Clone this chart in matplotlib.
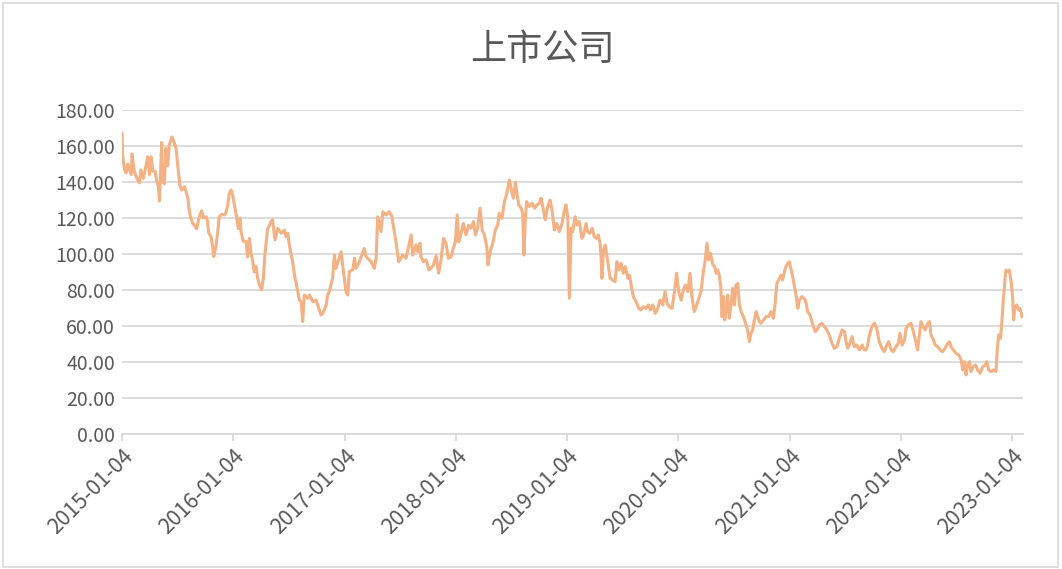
import numpy as np
import pandas as pd
import matplotlib
matplotlib.use('Agg')
import matplotlib.pyplot as plt
from matplotlib.ticker import MultipleLocator, FormatStrFormatter
from matplotlib.patches import Rectangle

plt.rcParams['font.family'] = ['Noto Sans CJK SC', 'DejaVu Sans']

title = '上市公司'
start_date = '2015-01-04'
end_offset = 2957  # days shown on the axis after start_date

# days after 2015-01-04
day_offset = [
    0, 2, 8, 13, 19, 30, 33, 40, 51, 57, 62, 70, 79, 84, 90, 95, 101, 109, 114, 119,
    123, 130, 133, 139, 144, 150, 155, 164, 172, 177, 183, 190, 196, 205, 210, 216, 221, 226, 232, 237,
    245, 251, 256, 261, 267, 276, 281, 284, 292, 298, 301, 309, 314, 319, 328, 336, 341, 347, 352, 358,
    363, 369, 376, 382, 387, 391, 398, 407, 412, 418, 423, 429, 434, 440, 445, 451, 458, 464, 469, 478, 484,
    # 2016 - 2017
    489, 494, 502, 511, 522, 533, 538, 544, 549, 560, 566, 577, 582, 588, 593, 598, 609, 615, 626, 637,
    642, 653, 659, 670, 675, 680, 691, 697, 702, 719, 724, 735, 741, 746, 757, 763, 768, 779, 795, 801,
    817, 828, 834, 839, 850, 856, 866, 877, 886, 888, 899, 908, 921, 932, 949, 954, 965, 970, 978,
    # 2017 - 2019
    981, 989, 998, 1007, 1014, 1022, 1031, 1039, 1047, 1055, 1063, 1071, 1080, 1087, 1094, 1100, 1105, 1113,
    1120, 1129, 1138, 1145, 1153, 1160, 1167, 1175, 1182, 1189, 1197, 1201, 1208, 1217, 1225, 1233, 1238,
    1247, 1255, 1263, 1271, 1277, 1284, 1291, 1296, 1302, 1310, 1315, 1319, 1324, 1328, 1337, 1346, 1354,
    1362, 1370, 1375, 1381, 1389, 1397, 1405, 1411, 1419, 1427, 1435, 1444, 1452, 1457, 1463, 1468,
    # 2019 - 2020
    1474, 1479, 1487, 1493, 1501, 1509, 1515, 1523, 1528, 1536, 1543, 1550, 1558, 1563, 1569, 1573, 1575,
    1580, 1586, 1594, 1602, 1610, 1618, 1624, 1630, 1638, 1645, 1652, 1660, 1665, 1671, 1678, 1687, 1696,
    1703, 1711, 1720, 1727, 1734, 1742, 1750, 1758, 1766, 1775, 1782, 1789, 1796, 1805, 1813, 1820, 1827,
    1835, 1842, 1849, 1857, 1864, 1871, 1878, 1884, 1893, 1900, 1908, 1914, 1920, 1925, 1931, 1939, 1945,
    # 2020 - 2021
    1950, 1955, 1960, 1965, 1969, 1974, 1978, 1982, 1988, 1993, 1999, 2004, 2010, 2015, 2021, 2026, 2032,
    2039, 2048, 2053, 2059, 2064, 2070, 2075, 2081, 2086, 2092, 2097, 2105, 2114, 2122, 2130, 2138, 2143,
    2149, 2155, 2163, 2168, 2174, 2179, 2185, 2190, 2196, 2201, 2207, 2212, 2218, 2223, 2231, 2237, 2243,
    2250, 2258, 2267, 2275, 2281, 2289, 2297, 2305, 2313, 2321, 2330, 2338, 2346, 2354, 2363, 2371, 2376,
    2382, 2389, 2396, 2403, 2411, 2420, 2429, 2436,
    # 2021 - 2023
    2442, 2447, 2453, 2461, 2469, 2477, 2485, 2494, 2502, 2510, 2516, 2524, 2531, 2540, 2548, 2553, 2560,
    2568, 2573, 2581, 2589, 2597, 2604, 2611, 2617, 2622, 2628, 2636, 2644, 2650, 2655, 2661, 2669, 2677,
    2685, 2693, 2701, 2710, 2715, 2721, 2728, 2737, 2746, 2754, 2759, 2764, 2770, 2775, 2781, 2786, 2794,
    2801, 2808, 2816, 2825, 2833, 2838, 2844, 2852, 2860, 2868, 2872, 2877, 2883, 2888, 2892, 2898, 2901,
    2907, 2912, 2918, 2923, 2926, 2931, 2936, 2943, 2947, 2954,
]

index_value = [
    167, 155, 147, 145, 150, 144, 155.5, 146, 141, 139.5, 146.7, 142, 149.4, 154, 144, 154, 146, 146, 140, 138,
    129.4, 162, 140, 139, 158.7, 149, 160.5, 165, 161.5, 159, 149, 138, 135.5, 137.4, 134.6, 131, 123.5, 120, 117, 116,
    114, 119, 121.7, 124, 120, 120.7, 118, 112, 109.6, 103, 98.5, 105, 112, 120.7, 122, 121.7, 123, 127, 133.7, 135.5,
    132.8, 127, 120.7, 114, 120, 112, 107, 107, 98.5, 108.7, 101, 95.7, 90, 93, 86.5, 82.8, 80, 86.5, 100, 114, 116,
    # 2016 - 2017
    118, 119, 107.8, 114.2, 111.5, 113.3, 109.6, 111.5, 105, 95.7, 88.3, 79, 74.4, 73.5, 62.4, 77.2, 75.4, 77.2, 73.5, 74.4,
    71.7, 66.1, 67, 71.7, 77.2, 79, 86.5, 99.4, 92, 101.3, 94, 79, 77.2, 90.2, 91.1, 97.6, 92, 95.7, 103, 98.5,
    95.7, 92, 97.6, 120.7, 112.4, 123.5, 121.7, 123.5, 120.7, 118, 106.8, 95.7, 99.4, 97.6, 110.6, 99.4, 105, 101.3, 106,
    # 2017 - 2019
    98.5, 95.7, 96.7, 91.1, 92, 93.9, 99, 89.3, 96.7, 108.7, 106, 97.6, 98.5, 103.1, 106.8, 121.7, 106.8, 111.5,
    117, 110.6, 116.1, 114.3, 118, 110.6, 114.3, 125.4, 113.3, 110.6, 104.1, 93.9, 101.3, 106, 113.3, 116.1, 122.6,
    119.8, 129.1, 133.7, 141.1, 136.5, 131, 139.8, 133.7, 127.3, 125.4, 122.6, 99.4, 120.7, 129.1, 126.3, 128.2, 125.4,
    127.3, 128.2, 131, 126.3, 119, 126.3, 130, 124.5, 113.3, 117, 112.4, 117, 124.5, 127.3, 120.7, 75.5,
    # 2019 - 2020
    114.3, 112.4, 120.7, 116.1, 118, 108.7, 110.6, 117, 112.4, 111.5, 114.3, 109.6, 108.7, 110.6, 106, 95.7, 86.5,
    102.2, 105, 95.7, 86.5, 85.6, 84.6, 95.7, 91.1, 94.8, 89.3, 93, 86.5, 88.3, 82.8, 76.3, 73.5, 69.8,
    68.9, 70.7, 69.8, 71.7, 68.9, 71.7, 67, 69.8, 74.4, 71.7, 79.1, 72.6, 70.7, 69.8, 79.1, 89.3, 79.1,
    74.4, 79.9, 82.8, 79.1, 89.3, 75.4, 68, 70.7, 75.4, 79.1, 90.2, 96.7, 105.9, 96.7, 100.4, 93.9, 93,
    # 2020 - 2021
    89.3, 91.1, 88.3, 81.9, 65.2, 76.3, 63.3, 68, 77.2, 64.3, 71.7, 80.9, 71.7, 82.8, 83.7, 71.7, 68,
    65.2, 60.6, 57.8, 51.3, 55.9, 57.8, 63.3, 68, 65.2, 62.4, 61.5, 63.3, 65.2, 65.2, 68, 64.3, 71.7,
    83.7, 85.6, 88.3, 85.6, 90.2, 93, 94.8, 95.7, 91.1, 87.4, 81.9, 77.2, 69.8, 74.4, 76.3, 75.4, 74.4,
    68, 66.1, 60.6, 56.9, 57.8, 60.6, 61.5, 59.6, 57.8, 55, 50.4, 47.6, 48.5, 53.1, 57.8, 56.9, 51.3,
    47.6, 50.4, 54.1, 48.5, 49.4, 46.7, 49.4, 46.7,
    # 2021 - 2023
    46.7, 49.4, 55, 59.6, 61.5, 58.7, 51.3, 47.6, 45.7, 49.4, 51.3, 46.7, 45.7, 48.5, 50.4, 55.9, 49.4,
    52.2, 58.7, 60.6, 61.5, 56.9, 52.2, 46.7, 55, 62.4, 59.6, 57.8, 61.5, 62.4, 55, 53.1, 49.4, 48.5,
    46.7, 45.7, 47.6, 50.4, 51.3, 48.5, 46.7, 44.8, 43.9, 41.1, 35.6, 40.2, 32.8, 38.3, 40.2, 34.6, 37.4,
    38.3, 35.6, 33.7, 37.4, 38.3, 40.2, 35.6, 34.6, 35.6, 34.6, 45.7, 55, 53.1, 63.3, 73.5, 86.5, 91.1,
    90.2, 91.1, 84.6, 75.4, 63.3, 70.7, 71.7, 68.9, 69.8, 65.2,
]

tick_labels = ['2015-01-04', '2016-01-04', '2017-01-04', '2018-01-04', '2019-01-04',
               '2020-01-04', '2021-01-04', '2022-01-04', '2023-01-04']

start = pd.Timestamp(start_date)
dates = start + pd.to_timedelta(day_offset, unit='D')
ticks = pd.to_datetime(tick_labels)

fig = plt.figure(figsize=(10.62, 5.69), dpi=100)
fig.patches.append(Rectangle((0.003, 0.004), 0.993, 0.99, transform=fig.transFigure,
                             fill=False, edgecolor='#D9D9D9', linewidth=1.2))
ax = fig.add_axes([0.1149, 0.2373, 0.8484, 0.5694])

ax.plot(dates, index_value, color='#F4B183', linewidth=2.2, solid_joinstyle='round')

ax.set_ylim(0, 180)
ax.yaxis.set_major_locator(MultipleLocator(20))
ax.yaxis.set_major_formatter(FormatStrFormatter('%.2f'))
ax.set_xlim(start, start + pd.Timedelta(days=end_offset))
ax.set_xticks(ticks)
ax.set_xticklabels(tick_labels, rotation=45, ha='right', rotation_mode='anchor')

ax.grid(axis='y', color='#D9D9D9', linewidth=1.3)
ax.set_axisbelow(True)
for s in ['top', 'right', 'left']:
    ax.spines[s].set_visible(False)
ax.spines['bottom'].set_color('#D9D9D9')
ax.spines['bottom'].set_linewidth(1.3)
ax.tick_params(axis='y', length=0, pad=5, labelsize=14, labelcolor='#595959')
ax.tick_params(axis='x', length=5, width=1.3, color='#D9D9D9', pad=3,
               labelsize=15.5, labelcolor='#595959')

fig.text(0.511, 0.912, title, ha='center', va='center', fontsize=26,
         color='#595959', fontweight='light')

fig.savefig('out.png', dpi=100)
